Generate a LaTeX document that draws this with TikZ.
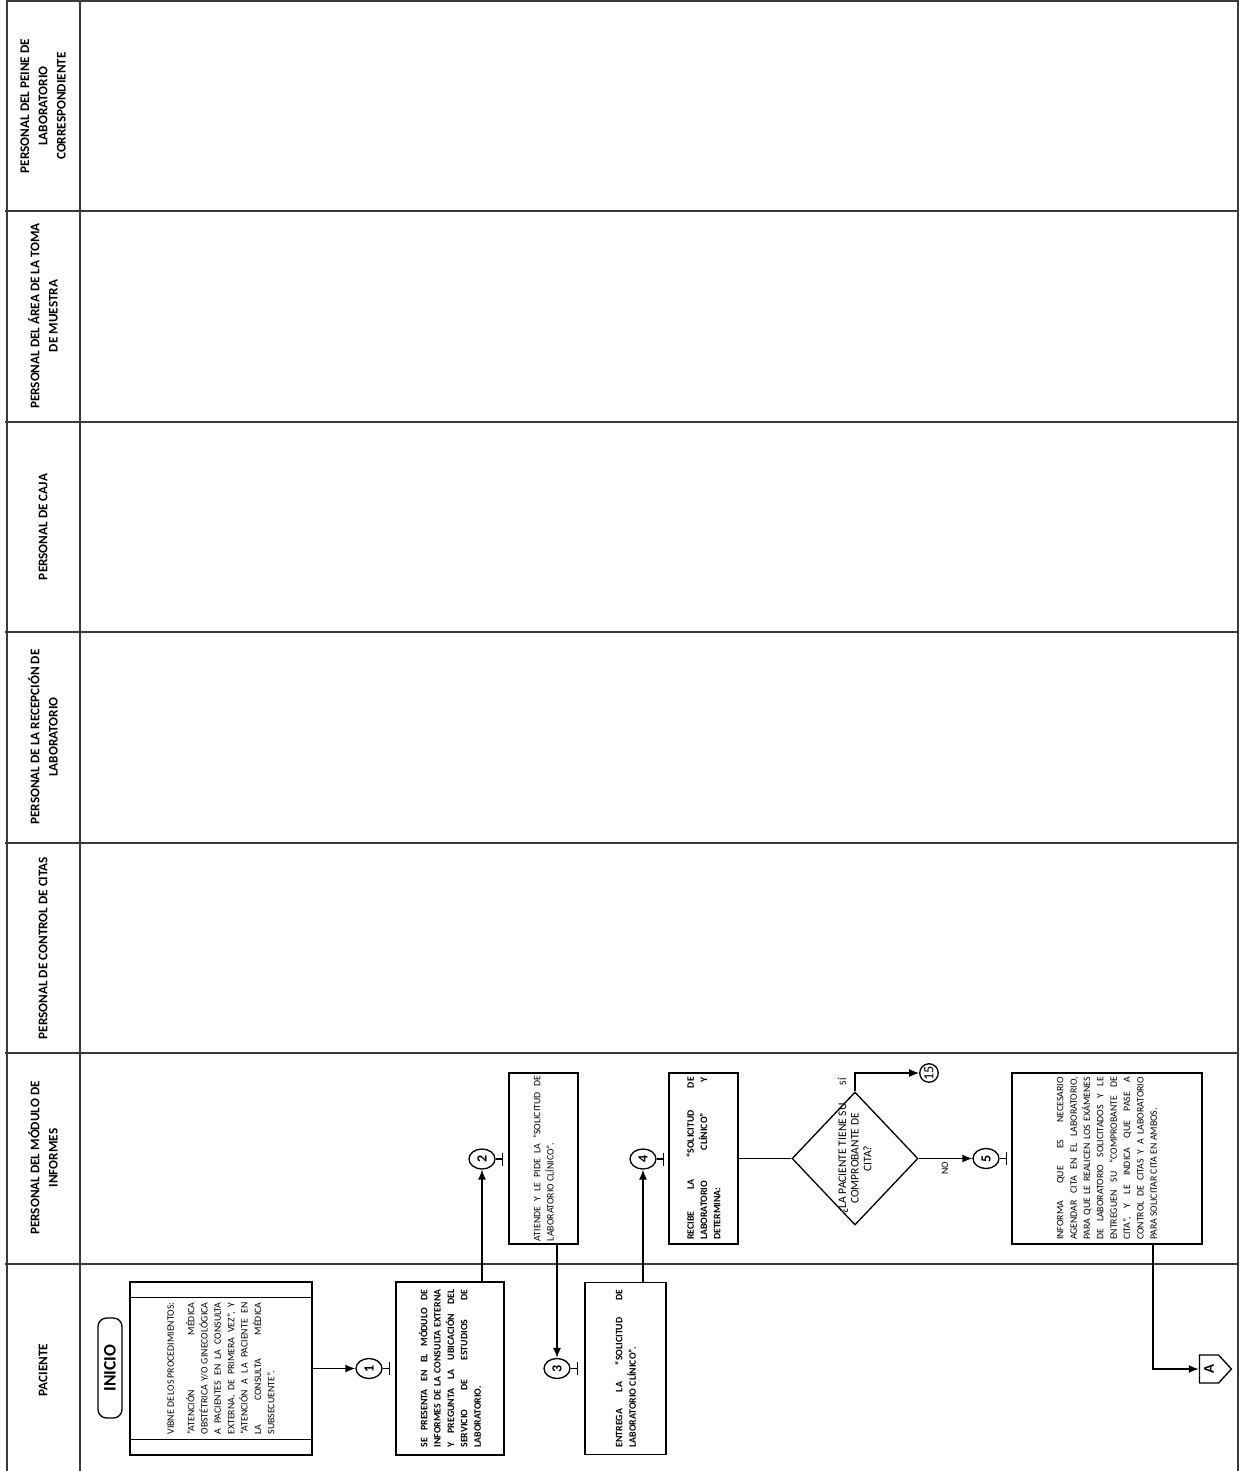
\documentclass[tikz,border=0pt]{standalone}
\usepackage{fontspec}
\setmainfont{Carlito}
\usetikzlibrary{arrows.meta,shapes.geometric,shapes.symbols,calc}

\definecolor{laneline}{HTML}{3a3a3a}
\newcommand{\boxfont}{\fontsize{5.6}{7.6}\selectfont}
\newcommand{\lanefont}{\fontsize{7.5}{10.4}\selectfont\bfseries}

\begin{document}
\begin{tikzpicture}[
  x=0.02cm, y=-0.02cm,
  lane/.style={draw=laneline, line width=1.1pt},
  lanename/.style={rotate=90, font=\lanefont, align=center, inner sep=0pt},
  activity/.style={draw, line width=0.75pt, rotate=90, font=\boxfont, align=justify, inner sep=0pt},
  bold/.style={font=\boxfont\bfseries},
  decision/.style={diamond, draw, line width=0.75pt, rotate=90, font=\fontsize{6.6}{7.2}\selectfont, align=center, inner sep=-12pt},
  terminal/.style={draw, line width=0.75pt, rounded corners=0.17cm, rotate=90, font=\fontsize{10}{11}\selectfont\bfseries, minimum width=2cm, minimum height=0.48cm, inner sep=0pt},
  conn/.style={ellipse, draw, line width=0.75pt, rotate=90, font=\fontsize{8}{9}\selectfont\bfseries, minimum width=0.4cm, minimum height=0.52cm, inner sep=0pt},
  offpage/.style={signal, signal to=east, signal pointer angle=95, draw, line width=0.75pt, font=\fontsize{8.5}{9}\selectfont\bfseries, minimum width=0.64cm, minimum height=0.56cm, inner sep=0pt},
  flow/.style={line width=0.75pt},
  arrow/.style={flow, -{Latex[length=0.2cm, width=0.16cm]}},
  branch/.style={rotate=90, font=\boxfont, inner sep=1pt},
]
\useasboundingbox (0,0) rectangle (1239,1471);

% frame and lanes
\draw[lane] (7,1471) -- (7,1) -- (1238,1) -- (1238,1471);
\draw[lane] (80,1) -- (80,1471);
\foreach \y in {211,422,632,843,1053,1264}
  \draw[lane] (5,\y) -- (1238,\y);

\node[lanename] (peine) at (43,106) {PERSONAL DEL PEINE DE\\LABORATORIO\\CORRESPONDIENTE};
\node[lanename] (toma) at (43,316) {PERSONAL DEL ÁREA DE LA TOMA\\DE MUESTRA};
\node[lanename] (caja) at (43,527) {PERSONAL DE CAJA};
\node[lanename] (recepcion) at (43,737) {PERSONAL DE LA RECEPCIÓN DE\\LABORATORIO};
\node[lanename] (citas) at (43,948) {PERSONAL DE CONTROL DE CITAS};
\node[lanename] (modulo) at (43,1158) {PERSONAL DEL MÓDULO DE\\INFORMES};
\node[lanename] (paciente) at (43,1370) {PACIENTE};

% steps
\node[terminal] (inicio) at (110,1368) {INICIO};
\node[activity, minimum width=3.46cm, minimum height=3.64cm, text width=2.64cm] (viene) at (221,1368.5)
  {VIBNE DE LOS PROCEDIMIENTOS:\par\vspace{4pt}
   “ATENCIÓN MÉDICA\linebreak OBSTÉTRICA Y/O GINECOLÓGICA\linebreak A PACIENTES EN LA CONSULTA\linebreak
   EXTERNA, DE PRIMERA VEZ”, Y\linebreak “ATENCIÓN A LA PACIENTE EN\linebreak LA CONSULTA MÉDICA\linebreak SUBSECUENTE”.};
\draw[flow] ($(viene.north east)+(0,16)$) -- ($(viene.south east)+(0,16)$);
\draw[flow] ($(viene.north west)+(0,-16)$) -- ($(viene.south west)+(0,-16)$);

\node[conn] (c1) at (369,1368.5) {1};
\node[activity, bold, minimum width=3.46cm, minimum height=2.16cm, text width=3.16cm] (presenta) at (450,1368.5)
  {SE PRESENTA EN EL MÓDULO DE\linebreak INFORMES DE LA CONSULTA EXTERNA\linebreak Y PREGUNTA LA UBICACIÓN DEL\linebreak
   SERVICIO DE ESTUDIOS DE\linebreak LABORATORIO.};
\node[conn] (c2) at (482,1159) {2};
\node[activity, minimum width=3.42cm, minimum height=1.38cm, text width=3.3cm] (atiende) at (543.5,1158.5)
  {ATIENDE Y LE PIDE LA “SOLICITUD DE\linebreak LABORATORIO CLÍNICO”.};
\node[conn] (c3) at (557,1368.5) {3};
\node[activity, bold, minimum width=3.44cm, minimum height=1.62cm, text width=3.16cm] (entrega) at (625.5,1368.5)
  {ENTREGA LA “SOLICITUD DE\linebreak LABORATORIO CLÍNICO”.};
\node[conn] (c4) at (643,1159) {4};
\node[activity, bold, minimum width=3.42cm, minimum height=1.38cm, text width=3.26cm] (recibe) at (703.5,1158.5)
  {RECIBE LA “SOLICITUD DE\linebreak LABORATORIO CLÍNICO” Y\linebreak DETERMINA:};
\node[decision, minimum width=2.66cm, minimum height=2.52cm] (tienecita) at (855,1158.5)
  {¿LA PACIENTE TIENE SU\\COMPROBANTE DE\\CITA?};
\node[conn, circle, font=\fontsize{8}{9}\selectfont, minimum size=0.37cm] (c15) at (929,1073) {15};
\node[conn] (c5) at (986,1158.5) {5};
\node[activity, minimum width=3.42cm, minimum height=3.8cm, text width=3.26cm] (informa) at (1107,1158.5)
  {INFORMA QUE ES NECESARIO\linebreak AGENDAR CITA EN EL LABORATORIO,\linebreak PARA QUE LE REALICEN LOS EXÁMENES\linebreak
   DE LABORATORIO SOLICITADOS Y LE\linebreak ENTREGUEN SU “COMPROBANTE DE\linebreak CITA”, Y LE INDICA QUE PASE A\linebreak
   CONTROL DE CITAS Y A LABORATORIO\linebreak PARA SOLICITAR CITA EN AMBOS.};
\node[offpage] (pageA) at (1209,1369) {\rotatebox{90}{A}};

\node[branch] (si) at (842,1082) {SÍ};
\node[branch] (no) at (945,1168) {NO};

% connectors
\draw[arrow] (viene) -- (c1);
\draw[arrow] (presenta.east -| c2) -- (c2);
\draw[arrow] (atiende.west -| c3) -- (c3);
\draw[arrow] (entrega.east -| c4) -- (c4);
\draw[flow] (recibe) -- (tienecita);
\draw[arrow] (tienecita.east) |- (c15);
\draw[arrow] (tienecita.south) -- (c5);
\draw[arrow] ($(informa.west)+(46,0)$) |- (pageA);
\foreach \c in {c1,c2,c3,c4,c5}
  \draw[flow] (\c.south) -- ++(7,0) ++(0,-6.5) -- ++(0,13);
\end{tikzpicture}
\end{document}
